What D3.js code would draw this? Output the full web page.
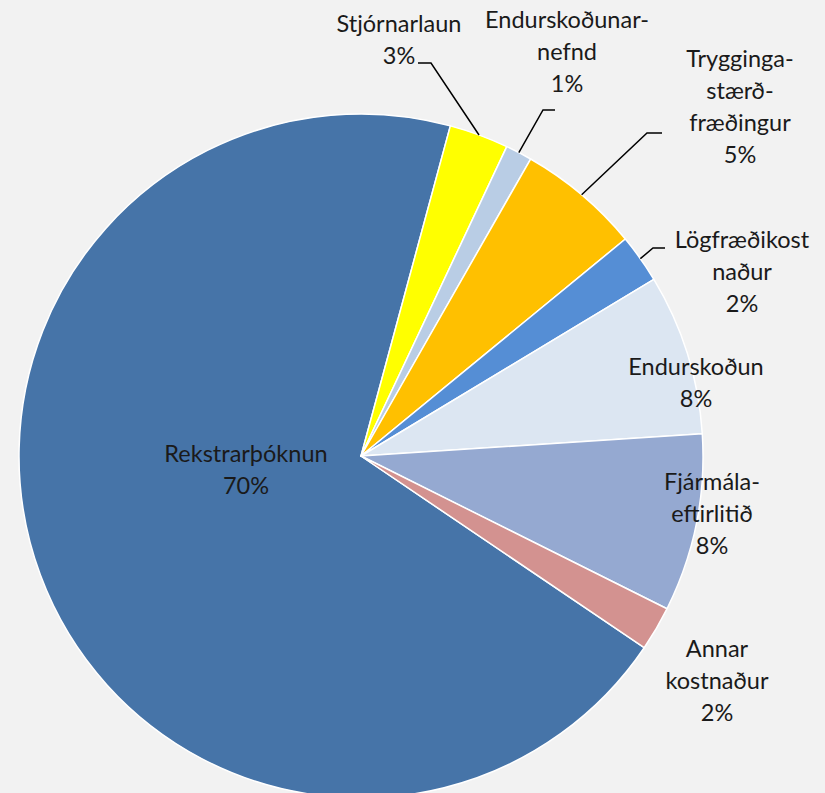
<!DOCTYPE html>
<html>
<head>
<meta charset="utf-8">
<script src="https://cdn.jsdelivr.net/npm/d3@7"></script>
<style>
  html, body { margin: 0; padding: 0; background: #f2f2f2; }
  svg { display: block; }
  text { font-family: Lato, "Open Sans", sans-serif; font-size: 23.5px; font-weight: 400; fill: #1a1a1a; }
</style>
</head>
<body>
<svg width="825" height="793"></svg>
<script>
// data (share of total, %)
var categories = [
  'Rekstrarþóknun', 'Stjórnarlaun', 'Endurskoðunarnefnd', 'Tryggingastærðfræðingur',
  'Lögfræðikostnaður', 'Endurskoðun', 'Fjármálaeftirlitið', 'Annar kostnaður'
];
var values = [69.7, 2.8, 1.25, 5.8, 2.3, 7.6, 8.4, 2.1];
// label lines as shown in the chart
var labelLines = [
  ['Rekstrarþóknun', '70%'],
  ['Stjórnarlaun', '3%'],
  ['Endurskoðunar-', 'nefnd', '1%'],
  ['Trygginga-', 'stærð-', 'fræðingur', '5%'],
  ['Lögfræðikost', 'naður', '2%'],
  ['Endurskoðun', '8%'],
  ['Fjármála-', 'eftirlitið', '8%'],
  ['Annar', 'kostnaður', '2%']
];
var colors = ['#4674a8', '#ffff00', '#b9cde5', '#ffc000', '#558ed5', '#dce6f2', '#95a9d1', '#d39290'];

// label placement: text centre x, first baseline y, leader elbow x/y and end x (null = no leader)
var labelLayout = [
  { x: 246, y: 462 },
  { x: 399, y: 32, elbow: [431, 63], end: 418 },
  { x: 567, y: 28, elbow: [543, 110], end: 555 },
  { x: 740, y: 67, elbow: [647, 133], end: 662 },
  { x: 742, y: 248, elbow: [653, 248], end: 665 },
  { x: 696, y: 375 },
  { x: 712, y: 490 },
  { x: 717, y: 657 }
];

var svg = d3.select('svg'),
  cx = 361,
  cy = 456,
  radius = 342,
  lineHeight = 32;

var startAngle = 124.1 * Math.PI / 180;
var pie = d3.pie()
  .sort(null)
  .startAngle(startAngle)
  .endAngle(startAngle + 2 * Math.PI);

var arcs = pie(values);
var arc = d3.arc().innerRadius(0).outerRadius(radius);
var edge = d3.arc().innerRadius(radius).outerRadius(radius);

var g = svg.append('g').attr('transform', 'translate(' + cx + ',' + cy + ')');

g.selectAll('path.slice')
  .data(arcs)
  .enter()
  .append('path')
  .attr('class', 'slice')
  .attr('d', arc)
  .attr('fill', function(d, i) { return colors[i]; })
  .attr('stroke', '#ffffff')
  .attr('stroke-width', 1.5)
  .attr('stroke-linejoin', 'round');

// leader lines
arcs.forEach(function(d, i) {
  var lay = labelLayout[i];
  if (!lay.elbow) return;
  var p = edge.centroid(d);
  var pts = [
    [p[0] + cx, p[1] + cy],
    lay.elbow,
    [lay.end, lay.elbow[1]]
  ];
  svg.append('path')
    .attr('d', d3.line()(pts))
    .attr('fill', 'none')
    .attr('stroke', '#000')
    .attr('stroke-width', 1.5);
});

// labels
var labels = svg.append('g')
  .selectAll('text')
  .data(arcs)
  .enter()
  .append('text')
  .attr('text-anchor', 'middle')
  .attr('x', function(d, i) { return labelLayout[i].x; })
  .attr('y', function(d, i) { return labelLayout[i].y; });

labels.each(function(d, i) {
  var t = d3.select(this);
  labelLines[i].forEach(function(line, j) {
    t.append('tspan')
      .attr('x', labelLayout[i].x)
      .attr('y', labelLayout[i].y + j * lineHeight)
      .text(line);
  });
});
</script>
</body>
</html>
